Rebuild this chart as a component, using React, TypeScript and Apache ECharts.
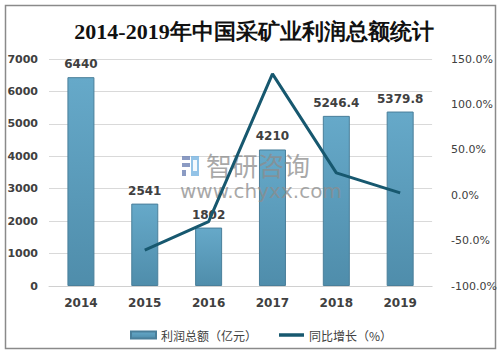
import React, { useEffect, useRef } from "react";
import * as echarts from "echarts";

const years = ["2014", "2015", "2016", "2017", "2018", "2019"];
const profit = [6440, 2541, 1802, 4210, 5246.4, 5379.8];
const growth = [null, -60.5, -29.1, 133.6, 24.6, 2.5];
const titleText = "2014-2019年中国采矿业利润总额统计";
const barName = "利润总额（亿元）";
const lineName = "同比增长（%）";

export default function App() {
  const ref = useRef<HTMLDivElement>(null);
  useEffect(() => {
    document.body.style.margin = "0";
    const chart = echarts.init(ref.current!, null, { renderer: "svg" });
    const labelColor = "#404040";
    const wmDark = "rgba(110,130,180,0.8)";
    const wmLight = "rgba(120,180,225,0.8)";
    chart.setOption({
      animation: false,
      backgroundColor: "#ffffff",
      title: {
        text: titleText,
        left: 249,
        textAlign: "center",
        top: 15,
        textStyle: {
          fontFamily: "'Liberation Serif', 'DejaVu Serif', serif",
          fontSize: 22,
          fontWeight: "bold",
          color: "#111",
        },
      },
      grid: { left: 49, right: 64, top: 59, bottom: 70 },
      legend: {
        left: 125,
        top: 324,
        itemWidth: 25,
        itemHeight: 7,
        itemGap: 22,
        textStyle: { fontSize: 12, color: labelColor, fontFamily: "'Noto Sans CJK SC', sans-serif" },
        data: [
          { name: barName, icon: "rect" },
          { name: lineName, icon: "path://M0 0H100V14H0Z" },
        ],
      },
      xAxis: {
        type: "category",
        data: years,
        axisTick: { show: false },
        axisLine: { lineStyle: { color: "#d0d0d0", width: 1 } },
        axisLabel: {
          margin: 11,
          fontSize: 12,
          fontWeight: "bold",
          color: labelColor,
          fontFamily: "'DejaVu Sans', sans-serif",
        },
      },
      yAxis: [
        {
          type: "value",
          min: 0,
          max: 7000,
          interval: 1000,
          axisLine: { show: false },
          axisTick: { show: false },
          splitLine: { lineStyle: { color: "#d9d9d9", width: 1 } },
          axisLabel: {
            margin: 11,
            fontSize: 11,
            fontWeight: "bold",
            color: labelColor,
            fontFamily: "'DejaVu Sans', sans-serif",
            formatter: (v: number) => String(v),
          },
        },
        {
          type: "value",
          min: -100,
          max: 150,
          interval: 50,
          axisLine: { show: false },
          axisTick: { show: false },
          splitLine: { show: false },
          axisLabel: {
            margin: 19,
            fontSize: 11,
            color: labelColor,
            fontFamily: "'DejaVu Sans', sans-serif",
            formatter: (v: number) => v.toFixed(1) + "%",
          },
        },
      ],
      series: [
        {
          name: barName,
          type: "bar",
          data: profit,
          barWidth: 27,
          z: 2,
          itemStyle: {
            color: new echarts.graphic.LinearGradient(0, 0, 0, 1, [
              { offset: 0, color: "#66a9c9" },
              { offset: 1, color: "#4f8dab" },
            ]),
            borderColor: "#4a7f9a",
            borderWidth: 1,
          },
          label: {
            show: true,
            position: "top",
            distance: 7,
            fontSize: 12,
            fontWeight: "bold",
            color: labelColor,
            fontFamily: "'DejaVu Sans', sans-serif",
          },
        },
        {
          name: lineName,
          type: "line",
          yAxisIndex: 1,
          data: growth,
          symbol: "none",
          z: 5,
          lineStyle: { color: "#17586f", width: 3 },
          itemStyle: { color: "#17586f" },
        },
      ],
      graphic: [
        {
          type: "rect",
          shape: { x: 5.5, y: 5.5, width: 490, height: 343 },
          style: { fill: "none", stroke: "#8a8a8a", lineWidth: 1.5 },
          silent: true,
        },
        {
          type: "group",
          z: 3,
          silent: true,
          children: [
            { type: "rect", z: 3, shape: { x: 182, y: 156, width: 8, height: 4 }, style: { fill: wmDark } },
            { type: "rect", z: 3, shape: { x: 182, y: 163, width: 8, height: 4 }, style: { fill: wmDark } },
            { type: "rect", z: 3, shape: { x: 182, y: 170, width: 4, height: 6 }, style: { fill: wmDark } },
            { type: "rect", z: 3, shape: { x: 191, y: 156, width: 8, height: 20 }, style: { fill: wmLight } },
            { type: "rect", z: 3, shape: { x: 193, y: 160, width: 4, height: 11 }, style: { fill: "rgba(255,255,255,0.9)" } },
            {
              type: "text",
              z: 3,
              x: 206,
              y: 151,
              style: {
                text: "智研咨询",
                fontSize: 26,
                lineHeight: 26,
                fontFamily: "'Noto Sans CJK SC', sans-serif",
                fill: "rgba(140,140,140,0.75)",
              },
            },
            {
              type: "text",
              z: 3,
              x: 180,
              y: 181,
              style: {
                text: "www.chyxx.com",
                fontSize: 20,
                lineHeight: 20,
                fontFamily: "'DejaVu Sans', sans-serif",
                fill: "rgba(140,140,140,0.75)",
              },
            },
          ],
        },
      ],
    });
    return () => chart.dispose();
  }, []);
  return <div ref={ref} style={{ width: 500, height: 356 }} />;
}
